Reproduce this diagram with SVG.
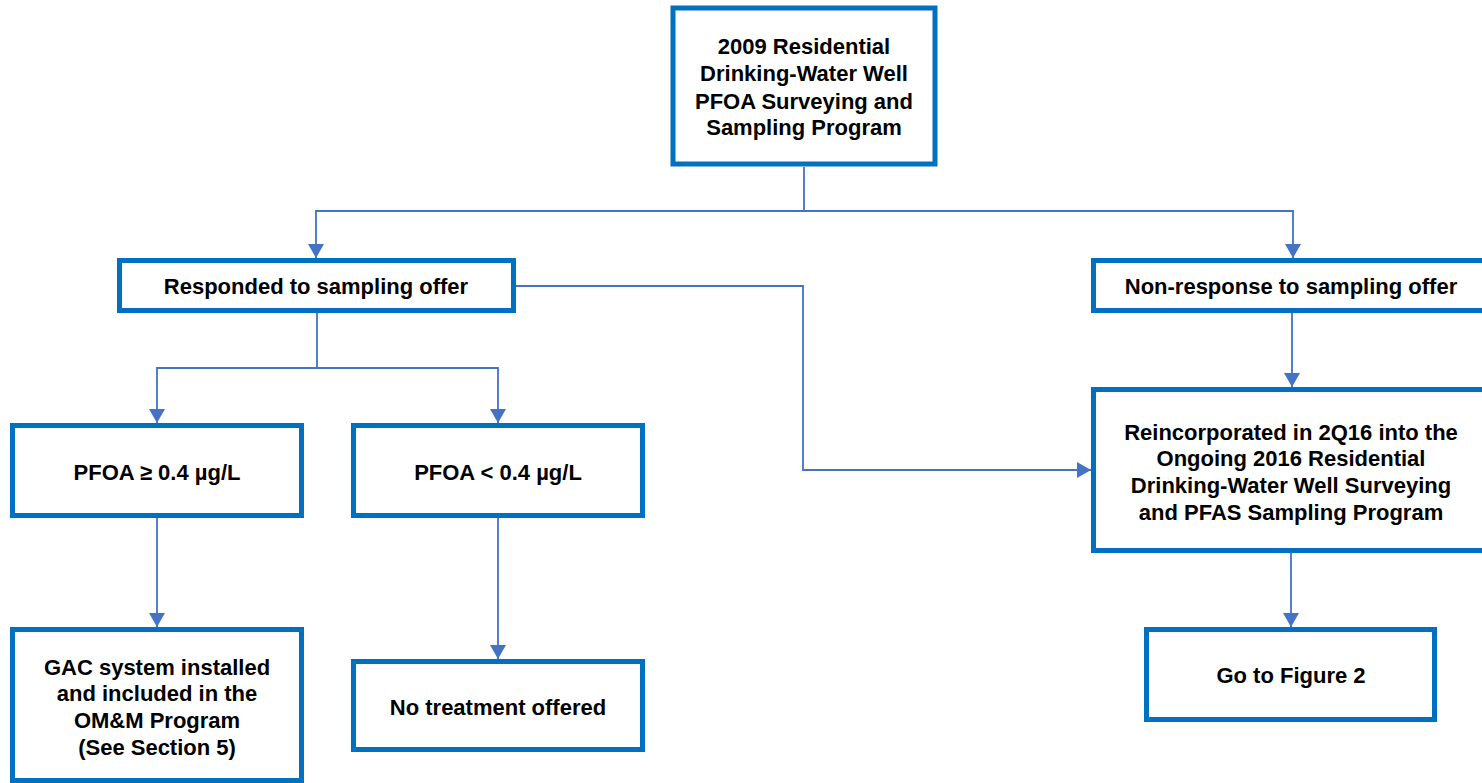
<svg xmlns="http://www.w3.org/2000/svg" width="1482" height="783" viewBox="0 0 1482 783">
<style>
.box{fill:#ffffff;stroke:#0070C0;stroke-width:5}
.t{font-family:"Liberation Sans",Arial,sans-serif;font-weight:bold;font-size:22px;fill:#000;text-anchor:middle}
.c{fill:none;stroke:#4472C4;stroke-width:1.8}
</style>
<defs>
<marker id="ah2" viewBox="0 0 14 16" refX="14" refY="8" markerWidth="14" markerHeight="16" markerUnits="userSpaceOnUse" orient="auto">
<path d="M0,0 L14,8 L0,16 z" fill="#4472C4"/>
</marker>
</defs>
<rect width="1482" height="783" fill="#ffffff"/>
<g id="connectors">
<path class="c" d="M804,167 V211 H316 V258" marker-end="url(#ah2)"/>
<path class="c" d="M804,211 H1293 V258" marker-end="url(#ah2)"/>
<path class="c" d="M317,313 V368 H157 V423" marker-end="url(#ah2)"/>
<path class="c" d="M317,368 H498 V423" marker-end="url(#ah2)"/>
<path class="c" d="M516,286 H803 V470 H1091" marker-end="url(#ah2)"/>
<path class="c" d="M1292,313 V387" marker-end="url(#ah2)"/>
<path class="c" d="M157,518 V627" marker-end="url(#ah2)"/>
<path class="c" d="M498,518 V659" marker-end="url(#ah2)"/>
<path class="c" d="M1291,553 V627" marker-end="url(#ah2)"/>
</g>
<g id="n_top">
<rect class="box" x="673" y="8" width="262" height="156"/>
<text class="t" x="804" y="54">2009 Residential</text>
<text class="t" x="804" y="81">Drinking-Water Well</text>
<text class="t" x="804" y="109">PFOA Surveying and</text>
<text class="t" x="804" y="135">Sampling Program</text>
</g>
<g id="n_responded">
<rect class="box" x="119.5" y="260.5" width="394" height="50"/>
<text class="t" x="316" y="294">Responded to sampling offer</text>
</g>
<g id="n_nonresponse">
<rect class="box" x="1093.5" y="260.5" width="400" height="50"/>
<text class="t" x="1291" y="294">Non-response to sampling offer</text>
</g>
<g id="n_reincorporated">
<rect class="box" x="1093.5" y="389.5" width="400" height="161"/>
<text class="t" x="1291" y="440">Reincorporated in 2Q16 into the</text>
<text class="t" x="1291" y="466">Ongoing 2016 Residential</text>
<text class="t" x="1291" y="493">Drinking-Water Well Surveying</text>
<text class="t" x="1291" y="520">and PFAS Sampling Program</text>
</g>
<g id="n_pfoa_ge">
<rect class="box" x="12.5" y="425.5" width="289" height="90"/>
<text class="t" x="157" y="480">PFOA ≥ 0.4 µg/L</text>
</g>
<g id="n_pfoa_lt">
<rect class="box" x="353.5" y="425.5" width="289" height="90"/>
<text class="t" x="498" y="480">PFOA &lt; 0.4 µg/L</text>
</g>
<g id="n_gac">
<rect class="box" x="12.5" y="629.5" width="289" height="151"/>
<text class="t" x="157" y="675">GAC system installed</text>
<text class="t" x="157" y="701">and included in the</text>
<text class="t" x="157" y="728">OM&amp;M Program</text>
<text class="t" x="157" y="755">(See Section 5)</text>
</g>
<g id="n_notreat">
<rect class="box" x="353.5" y="661.5" width="289" height="88"/>
<text class="t" x="498" y="715">No treatment offered</text>
</g>
<g id="n_fig2">
<rect class="box" x="1146.5" y="629.5" width="288" height="90"/>
<text class="t" x="1291" y="683">Go to Figure 2</text>
</g>
</svg>
